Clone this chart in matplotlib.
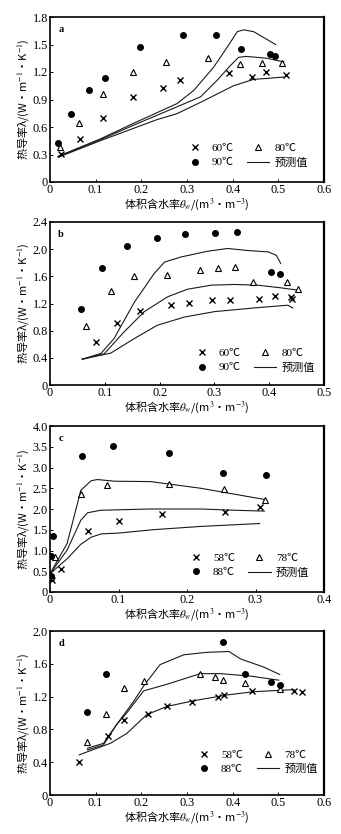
import matplotlib.pyplot as plt
from matplotlib.lines import Line2D
from matplotlib.ticker import MultipleLocator, FuncFormatter

plt.rcParams['font.family'] = ['Liberation Serif', 'Noto Sans CJK SC', 'DejaVu Sans']
plt.rcParams['mathtext.fontset'] = 'stix'

# ---- panel a: measured (60/80/90 C) and predicted curves ----
a_60_w = [0.024, 0.066, 0.116, 0.181, 0.247, 0.285, 0.391, 0.442, 0.473, 0.516]
a_60_k = [0.31, 0.47, 0.70, 0.93, 1.03, 1.11, 1.19, 1.15, 1.20, 1.17]
a_80_w = [0.022, 0.064, 0.116, 0.181, 0.253, 0.345, 0.417, 0.465, 0.509]
a_80_k = [0.38, 0.64, 0.96, 1.20, 1.31, 1.35, 1.29, 1.30, 1.30]
a_90_w = [0.017, 0.046, 0.086, 0.121, 0.198, 0.292, 0.363, 0.418, 0.481, 0.493]
a_90_k = [0.43, 0.74, 1.00, 1.14, 1.47, 1.60, 1.60, 1.45, 1.40, 1.38]
a_p1_w = [0.018, 0.11, 0.183, 0.278, 0.315, 0.358, 0.388, 0.41, 0.424, 0.446, 0.494]
a_p1_k = [0.28, 0.47, 0.64, 0.855, 1.0, 1.25, 1.47, 1.64, 1.66, 1.64, 1.50]
a_p2_w = [0.018, 0.11, 0.183, 0.278, 0.33, 0.366, 0.395, 0.413, 0.43, 0.475, 0.512]
a_p2_k = [0.28, 0.46, 0.62, 0.82, 0.93, 1.11, 1.27, 1.36, 1.37, 1.35, 1.31]
a_p3_w = [0.018, 0.11, 0.234, 0.278, 0.33, 0.402, 0.446, 0.475, 0.512]
a_p3_k = [0.27, 0.45, 0.68, 0.745, 0.87, 1.05, 1.12, 1.13, 1.145]

# ---- panel b ----
b_60_w = [0.0835, 0.122, 0.165, 0.22, 0.253, 0.295, 0.329, 0.381, 0.41, 0.439, 0.441]
b_60_k = [0.627, 0.92, 1.09, 1.185, 1.21, 1.25, 1.25, 1.27, 1.31, 1.29, 1.26]
b_80_w = [0.065, 0.112, 0.154, 0.213, 0.273, 0.307, 0.337, 0.37, 0.432, 0.453]
b_80_k = [0.87, 1.38, 1.60, 1.62, 1.69, 1.73, 1.74, 1.52, 1.51, 1.415]
b_90_w = [0.057, 0.094, 0.14, 0.195, 0.247, 0.301, 0.342, 0.404, 0.42]
b_90_k = [1.12, 1.73, 2.05, 2.17, 2.23, 2.24, 2.25, 1.665, 1.64]
b_p1_w = [0.059, 0.093, 0.117, 0.154, 0.19, 0.209, 0.239, 0.288, 0.324, 0.361, 0.398, 0.413, 0.421]
b_p1_k = [0.38, 0.465, 0.685, 1.22, 1.64, 1.81, 1.885, 1.97, 2.01, 1.98, 1.96, 1.91, 1.79]
b_p2_w = [0.059, 0.099, 0.135, 0.172, 0.215, 0.251, 0.294, 0.337, 0.379, 0.422, 0.449]
b_p2_k = [0.38, 0.46, 0.78, 1.08, 1.30, 1.41, 1.47, 1.48, 1.47, 1.43, 1.40]
b_p3_w = [0.059, 0.111, 0.154, 0.196, 0.245, 0.30, 0.373, 0.434, 0.443]
b_p3_k = [0.38, 0.47, 0.685, 0.88, 1.00, 1.08, 1.135, 1.175, 1.135]

# ---- panel c: 58/78/88 C ----
c_58_w = [0.0034, 0.016, 0.056, 0.10, 0.163, 0.256, 0.307]
c_58_k = [0.28, 0.55, 1.47, 1.71, 1.87, 1.92, 2.06]
c_78_w = [0.001, 0.007, 0.045, 0.083, 0.174, 0.254, 0.314]
c_78_k = [0.36, 0.85, 2.37, 2.59, 2.60, 2.47, 2.21]
c_88_w = [0.001, 0.001, 0.005, 0.046, 0.092, 0.173, 0.253, 0.315]
c_88_k = [0.39, 0.87, 1.34, 3.28, 3.53, 3.35, 2.87, 2.83]
c_p1_w = [0.0, 0.025, 0.045, 0.06, 0.069, 0.094, 0.147, 0.22, 0.313]
c_p1_k = [0.44, 1.17, 2.45, 2.68, 2.71, 2.67, 2.66, 2.50, 2.23]
c_p2_w = [0.0, 0.025, 0.045, 0.055, 0.074, 0.147, 0.22, 0.269, 0.313]
c_p2_k = [0.44, 1.01, 1.73, 1.91, 1.97, 2.00, 2.00, 1.97, 1.95]
c_p3_w = [0.0, 0.025, 0.045, 0.06, 0.075, 0.10, 0.15, 0.22, 0.306]
c_p3_k = [0.44, 0.80, 1.15, 1.32, 1.40, 1.42, 1.50, 1.58, 1.65]

# ---- panel d ----
d_58_w = [0.064, 0.127, 0.162, 0.214, 0.257, 0.312, 0.368, 0.38, 0.442, 0.534, 0.551]
d_58_k = [0.40, 0.72, 0.92, 0.99, 1.08, 1.14, 1.19, 1.22, 1.27, 1.27, 1.26]
d_78_w = [0.082, 0.122, 0.162, 0.205, 0.329, 0.361, 0.379, 0.426, 0.503]
d_78_k = [0.65, 0.99, 1.31, 1.39, 1.48, 1.44, 1.40, 1.37, 1.29]
d_88_w = [0.082, 0.122, 0.379, 0.426, 0.484, 0.503]
d_88_k = [1.01, 1.48, 1.87, 1.47, 1.38, 1.34]
d_p1_w = [0.082, 0.117, 0.146, 0.183, 0.205, 0.241, 0.293, 0.344, 0.392, 0.417, 0.468, 0.503]
d_p1_k = [0.55, 0.61, 0.86, 1.14, 1.33, 1.59, 1.71, 1.74, 1.75, 1.66, 1.56, 1.47]
d_p2_w = [0.082, 0.117, 0.146, 0.168, 0.205, 0.256, 0.329, 0.373, 0.439, 0.501]
d_p2_k = [0.57, 0.63, 0.86, 1.00, 1.27, 1.35, 1.48, 1.48, 1.45, 1.40]
d_p3_w = [0.064, 0.132, 0.168, 0.212, 0.256, 0.315, 0.388, 0.446, 0.534]
d_p3_k = [0.49, 0.63, 0.75, 0.98, 1.08, 1.15, 1.22, 1.26, 1.285]

W, H = 341, 834
fig = plt.figure(figsize=(W / 100, H / 100), dpi=100)
fig.patch.set_facecolor('white')

cjk = ['Noto Sans CJK SC']
xlabel = r'体积含水率$\theta_w$/(m$^3$·m$^{-3}$)'
ylabel = r'热导率λ/(W·m$^{-1}$·K$^{-1}$)'


def fmt(v, pos):
    return '0' if abs(v) < 1e-9 else f'{v:.1f}'


def draw_panel(top, bottom, tag, temps, pts, preds, xmax, xstep, ymax, ystep, leg_xy):
    ax = fig.add_axes([50 / W, 1 - bottom / H, 274 / W, (bottom - top) / H])
    (w1, k1), (w2, k2), (w3, k3) = pts
    for w, k in preds:
        ax.plot(w, k, color='#1a1a1a', lw=0.8, zorder=2)
    ax.plot(w1, k1, ls='none', marker='x', ms=4.5, mew=1.0, color='black', zorder=3)
    ax.plot(w2, k2, ls='none', marker='^', ms=4.0, mew=0.8, mfc='white', mec='black', zorder=3)
    ax.plot(w3, k3, ls='none', marker='o', ms=4.0, color='black', zorder=3)

    ax.set_xlim(0, xmax)
    ax.set_ylim(0, ymax)
    ax.xaxis.set_major_locator(MultipleLocator(xstep))
    ax.yaxis.set_major_locator(MultipleLocator(ystep))
    ax.xaxis.set_major_formatter(FuncFormatter(fmt))
    ax.yaxis.set_major_formatter(FuncFormatter(fmt))
    ax.tick_params(direction='in', length=2, width=0.7, labelsize=8.8, pad=1.5)
    for s in ax.spines.values():
        s.set_linewidth(1.2)
    ax.spines['right'].set_linewidth(1.6)

    ax.set_xlabel(xlabel, fontsize=8, family=cjk, labelpad=0)
    ax.set_ylabel(ylabel, fontsize=8, family=cjk, labelpad=1)
    ax.text(0.03, 0.95, tag, transform=ax.transAxes, fontsize=7.5, fontweight='bold',
            va='top', ha='left')

    handles = [
        Line2D([], [], ls='none', marker='x', ms=4.5, mew=1.0, color='black'),
        Line2D([], [], ls='none', marker='o', ms=4.0, color='black'),
        Line2D([], [], ls='none', marker='^', ms=4.0, mew=0.8, mfc='white', mec='black'),
        Line2D([], [], color='#1a1a1a', lw=0.8),
    ]
    labels = [temps[0], temps[2], temps[1], '预测值']
    ax.legend(handles, labels, ncol=2, loc='center', bbox_to_anchor=leg_xy,
              frameon=False, fontsize=8, handlelength=2.0, handletextpad=0.5,
              columnspacing=1.2, labelspacing=0.4, borderaxespad=0)
    return ax


draw_panel(17, 182, 'a', ['60℃', '80℃', '90℃'],
           [(a_60_w, a_60_k), (a_80_w, a_80_k), (a_90_w, a_90_k)],
           [(a_p1_w, a_p1_k), (a_p2_w, a_p2_k), (a_p3_w, a_p3_k)],
           0.6, 0.1, 1.8, 0.3, (0.715, 0.16))
draw_panel(222, 385, 'b', ['60℃', '80℃', '90℃'],
           [(b_60_w, b_60_k), (b_80_w, b_80_k), (b_90_w, b_90_k)],
           [(b_p1_w, b_p1_k), (b_p2_w, b_p2_k), (b_p3_w, b_p3_k)],
           0.5, 0.1, 2.4, 0.4, (0.74, 0.15))
draw_panel(426, 592, 'c', ['58℃', '78℃', '88℃'],
           [(c_58_w, c_58_k), (c_78_w, c_78_k), (c_88_w, c_88_k)],
           [(c_p1_w, c_p1_k), (c_p2_w, c_p2_k), (c_p3_w, c_p3_k)],
           0.4, 0.1, 4.0, 0.5, (0.72, 0.16))
draw_panel(631, 795, 'd', ['58℃', '78℃', '88℃'],
           [(d_58_w, d_58_k), (d_78_w, d_78_k), (d_88_w, d_88_k)],
           [(d_p1_w, d_p1_k), (d_p2_w, d_p2_k), (d_p3_w, d_p3_k)],
           0.6, 0.1, 2.0, 0.4, (0.75, 0.20))

fig.savefig('out.png', dpi=100, facecolor='white')
